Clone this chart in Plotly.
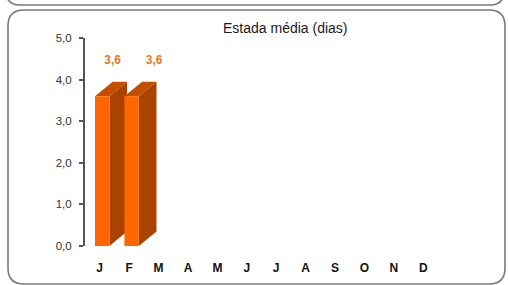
import plotly.graph_objects as go

months = ["J", "F", "M", "A", "M", "J", "J", "A", "S", "O", "N", "D"]
values = [3.6, 3.6]
labels = ["3,6", "3,6"]
yticks = [0, 1, 2, 3, 4, 5]
yticktext = ["0,0", "1,0", "2,0", "3,0", "4,0", "5,0"]

W, H = 508, 285
L, R, T, B = 85, 70, 38, 39
PW, PH = W - L - R, H - T - B

FRONT = "#FF6600"
SIDE = "#A94300"
TOP = "#C24E00"
FONT = "Liberation Sans, Arial, sans-serif"

x0off, x1off = -0.16, 0.33   # front face in category units
ddx, ddy = 0.6, 0.35         # depth offset (category units, value units)
label_dx = [0.44, 0.85]
label_dy = 0.85

fig = go.Figure()
for i, v in enumerate(values):
    a, b = i + x0off, i + x1off
    side_x = [b, b + ddx, b + ddx, b, b]
    side_y = [0, ddy, v + ddy, v, 0]
    top_x = [a, a + ddx, b + ddx, b, a]
    top_y = [v, v + ddy, v + ddy, v, v]
    front_x = [a, b, b, a, a]
    front_y = [0, 0, v, v, 0]
    for xs, ys, c in [(side_x, side_y, SIDE), (top_x, top_y, TOP), (front_x, front_y, FRONT)]:
        fig.add_trace(go.Scatter(x=xs, y=ys, fill="toself", fillcolor=c, mode="lines",
                                 line=dict(width=0, color=c), hoverinfo="skip", showlegend=False))

fig.add_trace(go.Scatter(
    x=[i + label_dx[i] for i in range(len(values))],
    y=[v + label_dy for v in values],
    text=labels, mode="text", textposition="middle center",
    textfont=dict(family=FONT, size=12, color="#E8782A", weight="bold"),
    showlegend=False, hoverinfo="skip"))


def px(X):
    return (X - L) / PW


def py(Y):
    return (H - B - Y) / PH


def rrect(x0, y0, x1, y1, r):
    return (f"M {px(x0 + r)} {py(y0)} L {px(x1 - r)} {py(y0)} "
            f"Q {px(x1)} {py(y0)} {px(x1)} {py(y0 + r)} L {px(x1)} {py(y1 - r)} "
            f"Q {px(x1)} {py(y1)} {px(x1 - r)} {py(y1)} L {px(x0 + r)} {py(y1)} "
            f"Q {px(x0)} {py(y1)} {px(x0)} {py(y1 - r)} L {px(x0)} {py(y0 + r)} "
            f"Q {px(x0)} {py(y0)} {px(x0 + r)} {py(y0)} Z")


shapes = [
    dict(type="path", xref="paper", yref="paper", path=rrect(8, 10, 505, 284, 16),
         line=dict(color="#7a7a7a", width=1.6), layer="below"),
    dict(type="path", xref="paper", yref="paper", path=rrect(6, -40, 504, 5, 14),
         line=dict(color="#7a7a7a", width=1.6), layer="below"),
]

fig.update_layout(
    width=W, height=H,
    margin=dict(l=L, r=R, t=T, b=B, autoexpand=False),
    paper_bgcolor="white", plot_bgcolor="white",
    shapes=shapes,
    annotations=[dict(text="Estada média (dias)", xref="paper", yref="paper",
                      x=px(285), y=py(28), xanchor="center", yanchor="middle",
                      showarrow=False,
                      font=dict(family=FONT, size=14, color="#1a1a1a"))],
    xaxis=dict(range=[-0.5, 11.5], tickvals=list(range(12)), ticktext=months,
               showgrid=False, zeroline=False, showline=False, ticks="",
               tickfont=dict(family=FONT, size=12, color="#111", weight="bold"),
               ticklabelstandoff=13, automargin=False, fixedrange=True),
    yaxis=dict(range=[0, 5], tickvals=yticks, ticktext=yticktext,
               showgrid=False, zeroline=False, showline=True, linecolor="#555",
               linewidth=2, ticks="outside", ticklen=4, tickwidth=1.5, tickcolor="#555",
               tickfont=dict(family=FONT, size=11.5, color="#333"),
               ticklabelstandoff=5, automargin=False, fixedrange=True),
)

fig.write_html("out.html", config={"displayModeBar": False},
               post_script="document.body.style.margin='0';document.body.style.overflow='hidden';")
